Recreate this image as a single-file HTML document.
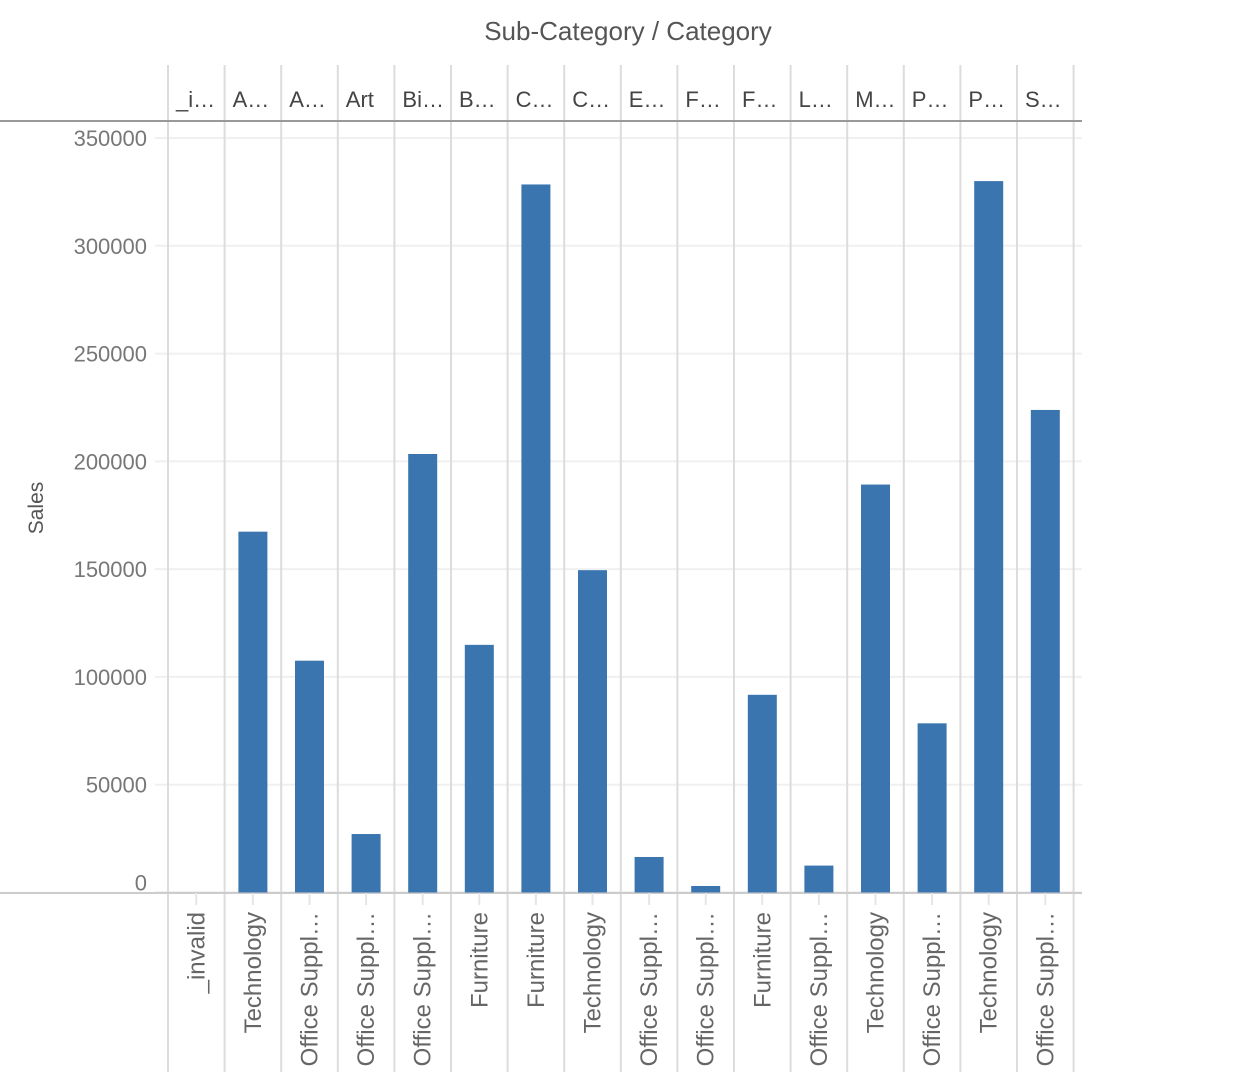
<!DOCTYPE html>
<html><head><meta charset="utf-8"><style>
html,body{margin:0;padding:0;background:#fff;}
svg{display:block;font-family:"Liberation Sans",sans-serif;}
</style></head><body>
<svg id="chart" width="1246" height="1072" viewBox="0 0 1246 1072" xmlns="http://www.w3.org/2000/svg">
<text x="628" y="40" text-anchor="middle" font-size="26" fill="#555">Sub-Category / Category</text>
<text transform="translate(43,508) rotate(-90)" text-anchor="middle" font-size="21" fill="#555">Sales</text>
<g id="grid"></g><g id="bars"></g><g id="labels"></g>
</svg>
<script>
const subCats = ["_i…","A…","A…","Art","Bi…","B…","C…","C…","E…","F…","F…","L…","M…","P…","P…","S…"];
const categories = ["_invalid","Technology","Office Suppl…","Office Suppl…","Office Suppl…","Furniture","Furniture","Technology","Office Suppl…","Office Suppl…","Furniture","Office Suppl…","Technology","Office Suppl…","Technology","Office Suppl…"];
const sales = [0,167380,107532,27119,203413,114880,328449,149528,16476,3024,91705,12486,189239,78479,330007,223844];
const yTicks = [0,50000,100000,150000,200000,250000,300000,350000];
const NS="http://www.w3.org/2000/svg";
const svg=document.getElementById('chart');
const x0=168, colW=56.6, y0=892.5, yTop=138, yMax=350000;
const yS=v=>y0-(v/yMax)*(y0-yTop);
const xS=i=>x0+i*colW;
function mk(tag,attrs,parent,text){const e=document.createElementNS(NS,tag);for(const k in attrs)e.setAttribute(k,attrs[k]);if(text!==undefined)e.textContent=text;parent.appendChild(e);return e;}
const grid=document.getElementById('grid'),bars=document.getElementById('bars'),labels=document.getElementById('labels');
yTicks.forEach(t=>{
  const y=yS(t);
  const l=mk('line',{x1:155,x2:1082,y1:y,y2:y,stroke:t===0?'#e6e6e6':'#f0f0f0','stroke-width':2},grid);
  
  
  const tx=mk('text',{x:147,y:t===0?y-2:y+8,'text-anchor':'end','font-size':22,fill:'#777'},labels,String(t));
  
  
});
for(let i=0;i<=subCats.length;i++){
  const x=xS(i);
  const l=mk('line',{x1:x,x2:x,y1:65,y2:1072,stroke:'#dcdcdc','stroke-width':2},grid);
  
  
}
const hl=mk('line',{x1:0,x2:1082,y1:121,y2:121,stroke:'#999','stroke-width':2},grid);


const bl=mk('line',{x1:0,x2:1082,y1:893,y2:893,stroke:'#ccc','stroke-width':2},grid);


sales.forEach((v,i)=>{
  const cx=xS(i)+colW/2;
  if(v>0){
    const r=mk('rect',{x:cx-14.5,y:yS(v),width:29,height:y0-yS(v),fill:'#3b75af'},bars);
    
    
  }
  const tk=mk('line',{x1:cx,x2:cx,y1:893,y2:905,stroke:'#e6e6e6','stroke-width':2},grid);
  
  
  const h=mk('text',{x:xS(i)+8,y:107,'font-size':22,fill:'#444'},labels,subCats[i]);
  
  
  const c=mk('text',{transform:`translate(${cx+8},912) rotate(-90)`,'text-anchor':'end','font-size':24,fill:'#666'},labels,categories[i]);
  
  
});
</script>
</body></html>
